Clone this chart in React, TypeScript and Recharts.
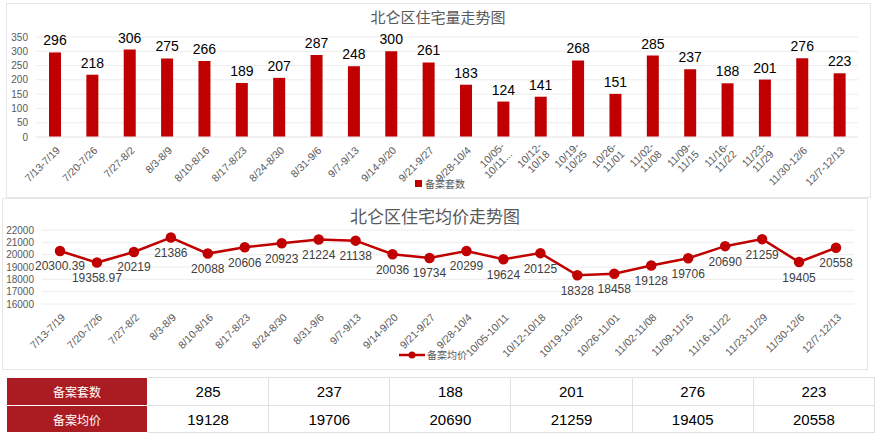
import React from 'react';
import {
  BarChart,
  Bar,
  LineChart,
  Line,
  XAxis,
  YAxis,
  CartesianGrid,
  LabelList,
  Legend,
} from 'recharts';

const weeks = [
  '7/13-7/19', '7/20-7/26', '7/27-8/2', '8/3-8/9', '8/10-8/16', '8/17-8/23',
  '8/24-8/30', '8/31-9/6', '9/7-9/13', '9/14-9/20', '9/21-9/27', '9/28-10/4',
  '10/05-10/11', '10/12-10/18', '10/19-10/25', '10/26-11/01', '11/02-11/08',
  '11/09-11/15', '11/16-11/22', '11/23-11/29', '11/30-12/6', '12/7-12/13',
];

// the bar chart wraps some of its labels onto two lines
const barTickLabels = [
  '7/13-7/19', '7/20-7/26', '7/27-8/2', '8/3-8/9', '8/10-8/16', '8/17-8/23',
  '8/24-8/30', '8/31-9/6', '9/7-9/13', '9/14-9/20', '9/21-9/27', '9/28-10/4',
  '10/05-\n10/11...', '10/12-\n10/18', '10/19-\n10/25', '10/26-\n11/01', '11/02-\n11/08',
  '11/09-\n11/15', '11/16-\n11/22', '11/23-\n11/29', '11/30-12/6', '12/7-12/13',
];

const counts = [296, 218, 306, 275, 266, 189, 207, 287, 248, 300, 261, 183, 124, 141, 268, 151, 285, 237, 188, 201, 276, 223];
const prices = [
  20300.39, 19358.97, 20219, 21386, 20088, 20606, 20923, 21224, 21138, 20036, 19734,
  20299, 19624, 20125, 18328, 18458, 19128, 19706, 20690, 21259, 19405, 20558,
];

const countTicks = [0, 50, 100, 150, 200, 250, 300, 350];
const priceTicks = [16000, 17000, 18000, 19000, 20000, 21000, 22000];

const tableWeeks = 6;

const RED = '#c00000';
const GRAY = '#595959';
const FONT = '"Liberation Sans", Arial, sans-serif';
const CJK = '"Noto Sans CJK SC", sans-serif';

const barData = weeks.map((w, i) => ({ week: w, label: barTickLabels[i], count: counts[i] }));
const lineData = weeks.map((w, i) => ({ week: w, price: prices[i] }));

const RotatedTick = (props: any) => {
  const { x, y, payload, labels, dx = 0, dy = 0 } = props;
  const text: string = labels ? labels[payload.index] : payload.value;
  const lines = text.split('\n');
  const lh = 11;
  return (
    <g transform={`translate(${x + dx},${y + dy})`}>
      <text transform="rotate(-45)" textAnchor="end" fontSize={10.5} fill={GRAY} fontFamily={FONT}>
        {lines.map((ln, k) => (
          <tspan key={k} x={0} y={(k - (lines.length - 1) / 2) * lh}>
            {ln}
          </tspan>
        ))}
      </text>
    </g>
  );
};

const LegendBox = ({ payload }: any) => (
  <div style={{ display: 'flex', alignItems: 'center', fontSize: 10, color: GRAY, fontFamily: CJK }}>
    <span style={{ width: 7, height: 7, background: payload?.[0]?.color ?? RED, marginRight: 3 }} />
    {payload?.[0]?.value}
  </div>
);

const LegendLine = ({ payload }: any) => (
  <div style={{ display: 'flex', alignItems: 'center', fontSize: 10, color: GRAY, fontFamily: CJK }}>
    <svg width={26} height={10} style={{ marginRight: 2 }}>
      <line x1={0} y1={5} x2={26} y2={5} stroke={RED} strokeWidth={2.5} />
      <circle cx={13} cy={5} r={3.5} fill={RED} />
    </svg>
    {payload?.[0]?.value}
  </div>
);

const cell: React.CSSProperties = {
  border: '1px solid #e0e0e0',
  textAlign: 'center',
  fontSize: 15,
  fontFamily: FONT,
  color: '#000',
  padding: 0,
};
const head: React.CSSProperties = {
  ...cell,
  background: '#ab1c22',
  color: '#fff',
  fontSize: 12,
  fontFamily: CJK,
  border: '1px solid #fff',
  width: 140,
};

export default function App() {
  const last = weeks.length - tableWeeks;
  return (
    <div style={{ position: 'absolute', left: 0, top: 0, width: 880, height: 441, background: '#fff', overflow: 'hidden' }}>
      <div style={{ position: 'absolute', left: 6, top: 3, width: 863, height: 193, border: '1px solid #e6e6e6' }} />
      <div style={{ position: 'absolute', left: 2, top: 198, width: 864, height: 170, border: '1px solid #e6e6e6' }} />

      <div style={{ position: 'absolute', left: 0, top: 0 }}>
        <BarChart width={880} height={200} data={barData} margin={{ top: 37, right: 22, bottom: 0, left: 6 }}>
          <CartesianGrid vertical={false} stroke="#ececec" />
          <XAxis
            dataKey="week"
            interval={0}
            axisLine={{ stroke: '#ececec' }}
            tickLine={false}
            height={63}
            tick={<RotatedTick labels={barTickLabels} dx={6} dy={6} />}
          />
          <YAxis
            width={30}
            domain={[0, 350]}
            ticks={countTicks}
            interval={0}
            axisLine={false}
            tickLine={false}
            tick={{ fontSize: 10, fill: GRAY, fontFamily: FONT }}
          />
          <Legend
            layout="horizontal"
            verticalAlign="middle"
            align="center"
            content={<LegendBox />}
            wrapperStyle={{ position: 'absolute', left: 415, top: 176, width: 'auto' }}
          />
          <Bar dataKey="count" name="备案套数" fill={RED} barSize={12} isAnimationActive={false}>
            <LabelList dataKey="count" position="top" offset={7} fontSize={14} fill="#000" fontFamily={FONT} />
          </Bar>
        </BarChart>
      </div>
      <div style={{ position: 'absolute', left: 0, top: 6, width: 876, textAlign: 'center', fontSize: 15, color: GRAY, fontFamily: CJK }}>
        北仑区住宅量走势图
      </div>

      <div style={{ position: 'absolute', left: 0, top: 195 }}>
        <LineChart width={880} height={180} data={lineData} margin={{ top: 35, right: 26, bottom: 0, left: 6 }}>
          <CartesianGrid vertical={false} stroke="#ececec" />
          <XAxis
            dataKey="week"
            interval={0}
            axisLine={false}
            tickLine={false}
            height={71}
            padding={{ left: 18, right: 18 }}
            tick={<RotatedTick dx={6} dy={6} />}
          />
          <YAxis
            width={36}
            domain={[16000, 22000]}
            ticks={priceTicks}
            interval={0}
            axisLine={false}
            tickLine={false}
            tick={{ fontSize: 10, fill: GRAY, fontFamily: FONT }}
          />
          <Legend
            layout="horizontal"
            verticalAlign="middle"
            align="center"
            content={<LegendLine />}
            wrapperStyle={{ position: 'absolute', left: 399, top: 152, width: 'auto' }}
          />
          <Line
            dataKey="price"
            name="备案均价"
            stroke={RED}
            strokeWidth={2.5}
            dot={{ r: 4, fill: RED, stroke: RED }}
            isAnimationActive={false}
          >
            <LabelList dataKey="price" position="bottom" offset={11} fontSize={12} fill="#404040" fontFamily={FONT} />
          </Line>
        </LineChart>
      </div>
      <div style={{ position: 'absolute', left: 0, top: 203, width: 870, textAlign: 'center', fontSize: 17, color: GRAY, fontFamily: CJK }}>
        北仑区住宅均价走势图
      </div>

      <table
        style={{
          position: 'absolute',
          left: 6,
          top: 377,
          width: 869,
          borderCollapse: 'collapse',
          tableLayout: 'fixed',
        }}
      >
        <tbody>
          <tr style={{ height: 28 }}>
            <td style={head}>备案套数</td>
            {counts.slice(last).map((v, i) => (
              <td key={i} style={cell}>{v}</td>
            ))}
          </tr>
          <tr style={{ height: 27 }}>
            <td style={head}>备案均价</td>
            {prices.slice(last).map((v, i) => (
              <td key={i} style={cell}>{v}</td>
            ))}
          </tr>
        </tbody>
      </table>
    </div>
  );
}
